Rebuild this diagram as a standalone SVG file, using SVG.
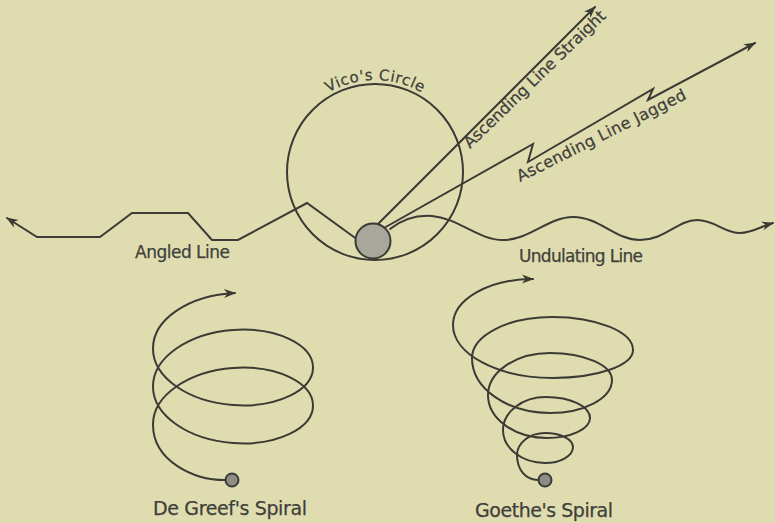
<svg xmlns="http://www.w3.org/2000/svg" width="775" height="523" viewBox="0 0 775 523">
<style>
.ln{fill:none;stroke:#3b3a35;stroke-width:2;stroke-linejoin:miter;stroke-linecap:round}
.lbl{font-family:"DejaVu Sans","Liberation Sans",sans-serif;fill:#403f3a;stroke:#403f3a;stroke-width:0.25}
.dot{fill:#8e8d84;stroke:#3b3a35;stroke-width:2}
</style>
<defs>
<marker id="arr" viewBox="0 0 12 10" refX="11" refY="5" markerWidth="12" markerHeight="10" markerUnits="userSpaceOnUse" orient="auto">
<path d="M0,0.5 L12,5 L0,9.5 L3.5,5 Z" fill="#3b3a35"/>
</marker>
<path id="vicoArc" d="M 283 172 A 92 92 0 0 1 467 172"/>
</defs>
<rect width="775" height="523" fill="#dfddb0"/>

<g id="vicos-circle">
<circle class="ln" cx="375" cy="172" r="88"/>
<text class="lbl" font-size="15"><textPath href="#vicoArc" startOffset="50%" text-anchor="middle" textLength="98">Vico's Circle</textPath></text>
</g>

<g id="connectors">
<path id="angled-line" class="ln" marker-end="url(#arr)" d="M 358 240 L 307 203 L 238 240 L 212 240 L 188 213 L 132 213 L 100 237 L 37 237 L 7 218"/>
<path id="ascending-straight" class="ln" marker-end="url(#arr)" d="M 377 225 L 595 7"/>
<path id="ascending-jagged" class="ln" marker-end="url(#arr)" d="M 384 228 L 533 144 L 528 162 L 653 89 L 648 100 L 755 43"/>
<path id="undulating-line" class="ln" marker-end="url(#arr)" d="M 390 229 C 404 218, 418 215, 432 216 C 458 218, 478 240, 503 240 C 530 240, 548 217, 573 217 C 600 217, 615 240, 640 240 C 665 240, 678 220, 697 220 C 715 220, 724 233, 740 233 C 752 233, 762 226, 773 223"/>
</g>

<g id="origin-ball">
<circle cx="373" cy="241" r="17.5" fill="#a8a79b" stroke="#3b3a35" stroke-width="2"/>
</g>

<g id="line-labels">
<text class="lbl" font-size="17" x="135" y="258" textLength="95">Angled Line</text>
<text class="lbl" font-size="17" x="519" y="262" textLength="124">Undulating Line</text>
<text class="lbl" font-size="16" transform="translate(470,149) rotate(-44)" textLength="190">Ascending Line Straight</text>
<text class="lbl" font-size="16" transform="translate(520,182) rotate(-26.5)" textLength="187">Ascending Line Jagged</text>
</g>

<g id="de-greef-spiral">
<path class="ln" marker-end="url(#arr)" d="M 225 480 C 195 480, 153 462, 153 424.5 C 153 395.2, 188.8 371.3, 233 368 C 277.2 364.7, 313 382.9, 313 405.5 C 313 428.1, 277.2 446.3, 233 443 C 188.8 439.7, 153 415.8, 153 386.5 C 153 357.2, 188.8 333.3, 233 330 C 277.2 326.7, 313 344.9, 313 367.5 C 313 390.1, 277.2 408.3, 233 405 C 188.8 401.7, 153 377.8, 153 348.5 C 153 319.2, 188.8 295.3, 235 293"/>
<circle class="dot" cx="232" cy="480" r="6.5"/>
<text class="lbl" font-size="19" x="153" y="515" textLength="154">De Greef's Spiral</text>
</g>

<g id="goethe-spiral">
<path class="ln" marker-end="url(#arr)" d="M 538 480 C 526 480, 517 470, 517 455 C 517 442.9, 529.5 433, 545 433 C 560.5 433, 573 439.3, 573 447 C 573 455.8, 560.5 463, 545 463 C 521.8 463, 503 448.2, 503 430 C 503 411.8, 522.3 397, 546 397 C 570.3 397, 590 406.4, 590 418 C 590 429, 570.7 438, 547 438 C 514.4 438, 488 418.7, 488 395 C 488 371.8, 515.8 353, 550 353 C 584.2 353, 612 365.1, 612 380 C 612 398.2, 584.2 413, 550 413 C 507 413, 472 388.4, 472 358 C 472 335.4, 507.8 317, 552 317 C 596.7 317, 633 331.8, 633 350 C 633 365.5, 597.2 378, 553 378 C 497.8 378, 453 354.3, 453 325 C 453 299.6, 488.8 279, 533 279"/>
<circle class="dot" cx="545" cy="480" r="6.5"/>
<text class="lbl" font-size="19" x="475" y="517" textLength="138">Goethe's Spiral</text>
</g>
</svg>
